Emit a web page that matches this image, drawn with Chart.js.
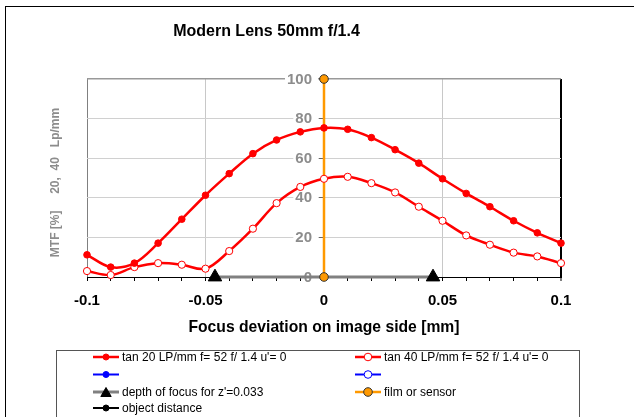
<!DOCTYPE html>
<html><head><meta charset="utf-8">
<script src="https://cdn.jsdelivr.net/npm/chart.js@4/dist/chart.umd.min.js"></script>
<style>html,body{margin:0;padding:0;background:#fff;} canvas{display:block;}</style>
</head><body>
<canvas id="c" width="634" height="417"></canvas>
<script>
const chartTitle = 'Modern Lens 50mm f/1.4';
const xAxisTitle = 'Focus deviation on image side [mm]';
const yAxisTitle = 'MTF [%]     20,  40   Lp/mm';
const focusShift = [-0.1, -0.09, -0.08, -0.07, -0.06, -0.05, -0.04, -0.03, -0.02, -0.01, 0, 0.01, 0.02, 0.03, 0.04, 0.05, 0.06, 0.07, 0.08, 0.09, 0.1];
const mtfTan20 = [11.2, 5, 7, 17.1, 29.2, 41.3, 52.2, 62.3, 69.2, 73.3, 75.3, 74.6, 70.4, 64.3, 57.5, 49.6, 42.2, 35.5, 28.4, 22.3, 17.1];
const mtfTan40 = [3, 1, 5, 7, 6.2, 4.2, 13.1, 24.4, 37.3, 45.5, 49.6, 50.6, 47.4, 42.7, 35.5, 28.4, 21, 16.3, 12.3, 10.4, 7];
const depthX = [-0.046, 0.046];
const depthY = [0, 0];
const sensorX = [0, 0];
const sensorY = [0, 100];
const xTickValues = [-0.1, -0.05, 0, 0.05, 0.1];
const xTickLabels = ['-0.1', '-0.05', '0', '0.05', '0.1'];
const yTickValues = [0, 20, 40, 60, 80, 100];
const yTickLabels = ['0', '20', '40', '60', '80', '100'];
const seriesNames = ["tan 20 LP/mm f= 52 f/ 1.4 u'= 0", "tan 40 LP/mm f= 52 f/ 1.4 u'= 0", '', '', "depth of focus for z'=0.033", 'film or sensor', 'object distance'];

const FONT = "'Liberation Sans', Arial, sans-serif";
const toPts = (xs, ys) => xs.map((x, i) => ({x: x, y: ys[i]}));
const near = (a, b) => Math.abs(a - b) < 1e-9;

function marker(ctx, style, x, y, r, fill, stroke, lw) {
  ctx.save();
  ctx.beginPath();
  if (style === 'triangle') {
    const a = 2 * Math.PI / 3;
    let rad = 0;
    ctx.moveTo(x + Math.sin(rad) * r, y - Math.cos(rad) * r);
    rad += a; ctx.lineTo(x + Math.sin(rad) * r, y - Math.cos(rad) * r);
    rad += a; ctx.lineTo(x + Math.sin(rad) * r, y - Math.cos(rad) * r);
    ctx.closePath();
  } else {
    ctx.arc(x, y, r, 0, Math.PI * 2);
  }
  ctx.fillStyle = fill; ctx.fill();
  ctx.lineWidth = lw; ctx.strokeStyle = stroke; ctx.stroke();
  ctx.restore();
}

const decor = {
  id: 'decor',
  beforeDraw(chart) {
    const ctx = chart.ctx;
    ctx.save();
    ctx.fillStyle = '#fff';
    ctx.fillRect(0, 0, chart.width, chart.height);
    ctx.restore();
  },
  beforeDatasetsDraw(chart) {
    // y tick labels beside the crossing y axis (drawn from the library's scale)
    const ctx = chart.ctx;
    const ys = chart.scales.y;
    const axisX = chart.scales.x.getPixelForValue(0);
    ctx.save();
    ctx.font = 'bold 15px ' + FONT;
    ctx.textAlign = 'right'; ctx.textBaseline = 'middle';
    ys.ticks.forEach((t) => {
      const i = yTickValues.findIndex(v => near(v, t.value));
      if (i < 0) return;
      const py = ys.getPixelForValue(t.value);
      const label = yTickLabels[i];
      const w = ctx.measureText(label).width;
      const right = axisX - 12;
      ctx.fillStyle = '#FFFFFF';
      ctx.fillRect(right - w - 2, py - 7, w + 8, 14);
      ctx.fillStyle = '#8C8C8C';
      ctx.fillText(label, right, py + 0.5);
    });
    ctx.restore();
  },
  afterDraw(chart) {
    const ctx = chart.ctx;
    ctx.save();
    ctx.strokeStyle = '#000'; ctx.lineWidth = 1;
    ctx.strokeRect(5.5, 6.5, 700, 500);
    ctx.fillStyle = '#000';
    ctx.font = 'bold 16px ' + FONT;
    ctx.textAlign = 'center'; ctx.textBaseline = 'middle';
    ctx.fillText(chartTitle, 266.5, 32);
    ctx.save();
    ctx.translate(56, 182.5);
    ctx.rotate(-Math.PI / 2);
    ctx.fillStyle = '#8C8C8C';
    ctx.font = 'bold 12px ' + FONT;
    ctx.fillText(yAxisTitle, 0, 0);
    ctx.restore();
    ctx.strokeStyle = '#555'; ctx.lineWidth = 1;
    ctx.strokeRect(56.5, 350.5, 523, 100);
    const cols = [93, 355];
    const rows = [357, 374.5, 392, 408];
    const legendR = [3, 3.8, 3, 3.8, 6, 4.3, 3];
    ctx.font = '12px ' + FONT;
    ctx.textAlign = 'left'; ctx.textBaseline = 'middle';
    chart.data.datasets.forEach((ds, i) => {
      const cx = cols[i % 2], cy = rows[Math.floor(i / 2)];
      ctx.strokeStyle = ds.borderColor; ctx.lineWidth = ds.borderWidth;
      ctx.beginPath(); ctx.moveTo(cx, cy); ctx.lineTo(cx + 26, cy); ctx.stroke();
      marker(ctx, ds.pointStyle || 'circle', cx + 13, cy + (ds.pointStyle === 'triangle' ? 1.5 : 0), legendR[i], ds.pointBackgroundColor, ds.pointBorderColor, ds.pointBorderWidth);
      ctx.fillStyle = '#000';
      ctx.fillText(seriesNames[i], cx + 29, cy + 0.5);
    });
    ctx.restore();
  }
};

const common = {showLine: true, clip: false, tension: 0.35, pointBorderWidth: 1, pointHoverRadius: 0};

new Chart(document.getElementById('c'), {
  type: 'scatter',
  data: {
    datasets: [
      Object.assign({}, common, {label: seriesNames[0], data: toPts(focusShift, mtfTan20), borderColor: '#FF0000', borderWidth: 2.5, pointRadius: 3.3, pointBackgroundColor: '#FF0000', pointBorderColor: '#FF0000', order: 0}),
      Object.assign({}, common, {label: seriesNames[1], data: toPts(focusShift, mtfTan40), borderColor: '#FF0000', borderWidth: 2.5, pointRadius: 3.6, pointBackgroundColor: '#FFFFFF', pointBorderColor: '#FF0000', order: 1}),
      Object.assign({}, common, {label: seriesNames[2], data: [], borderColor: '#0000FF', borderWidth: 2, pointRadius: 3, pointBackgroundColor: '#0000FF', pointBorderColor: '#0000FF', order: 5}),
      Object.assign({}, common, {label: seriesNames[3], data: [], borderColor: '#0000FF', borderWidth: 2, pointRadius: 3.6, pointBackgroundColor: '#FFFFFF', pointBorderColor: '#0000FF', order: 6}),
      Object.assign({}, common, {label: seriesNames[4], data: toPts(depthX, depthY), borderColor: '#808080', borderWidth: 3, tension: 0, pointStyle: 'triangle', pointRadius: 7.8, pointBackgroundColor: '#000000', pointBorderColor: '#000000', order: 3}),
      Object.assign({}, common, {label: seriesNames[5], data: toPts(sensorX, sensorY), borderColor: '#FF9900', borderWidth: 2.5, tension: 0, pointRadius: 4.3, pointBackgroundColor: '#FF9900', pointBorderColor: '#333333', order: 2}),
      Object.assign({}, common, {label: seriesNames[6], data: [], borderColor: '#000000', borderWidth: 2, pointRadius: 3, pointBackgroundColor: '#000000', pointBorderColor: '#000000', order: 7})
    ]
  },
  options: {
    responsive: false,
    animation: false,
    events: [],
    layout: {padding: {left: 87, right: 73, top: 79, bottom: 70}},
    plugins: {legend: {display: false}, tooltip: {enabled: false}, title: {display: false}},
    scales: {
      x: {
        type: 'linear', position: 'bottom', min: -0.1, max: 0.1,
        afterFit: (s) => { s.height = 70; },
        ticks: {
          stepSize: 0.01, autoSkip: false, maxRotation: 0, padding: 11,
          color: '#000', font: {family: FONT, size: 15, weight: 'bold'},
          callback: (v) => { const i = xTickValues.findIndex(t => near(t, v)); return i >= 0 ? xTickLabels[i] : ''; }
        },
        grid: {
          drawTicks: true, tickLength: 4, tickColor: '#000', tickWidth: 1,
          color: (c) => {
            const v = c.tick ? c.tick.value : NaN;
            if (near(v, -0.1)) return '#808080';
            if (near(v, 0.1)) return '#000000';
            if (near(v, -0.05) || near(v, 0) || near(v, 0.05)) return '#C8C8C8';
            return 'rgba(0,0,0,0)';
          },
          lineWidth: (c) => (c.tick && near(c.tick.value, 0.1)) ? 2 : 1
        },
        border: {color: '#000', width: 1},
        title: {display: true, text: xAxisTitle, color: '#000', font: {family: FONT, size: 15.7, weight: 'bold'}, padding: {top: 0, bottom: 10}}
      },
      y: {
        type: 'linear', position: {x: 0}, min: 0, max: 100,
        ticks: {stepSize: 20, display: false},
        grid: {
          drawTicks: true, tickLength: 5, tickColor: '#666666',
          color: (c) => {
            const v = c.tick ? c.tick.value : NaN;
            if (near(v, 100)) return '#999999';
            if (near(v, 0)) return '#000000';
            return '#D0D0D0';
          },
          lineWidth: (c) => (c.tick && near(c.tick.value, 100)) ? 1.5 : 1
        },
        border: {color: '#8C8C8C', width: 1}
      }
    }
  },
  plugins: [decor]
});
</script>
</body></html>
